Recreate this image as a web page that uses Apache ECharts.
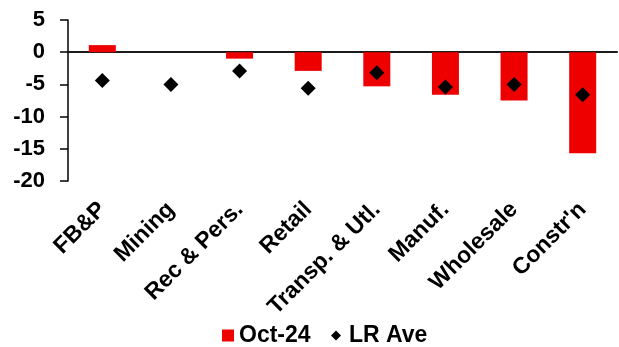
<!DOCTYPE html>
<html>
<head>
<meta charset="utf-8">
<script src="https://cdn.jsdelivr.net/npm/echarts@6/dist/echarts.min.js"></script>
<style>
  html, body { margin: 0; padding: 0; background: #fff; }
  #chart { width: 619px; height: 347px; }
</style>
</head>
<body>
<div id="chart"></div>
<script>
// Sector categories along the x axis
const categories = ['FB&P', 'Mining', 'Rec & Pers.', 'Retail', 'Transp. & Utl.', 'Manuf.', 'Wholesale', "Constr'n"];
// Latest month reading (bars)
const oct24 = [1.1, 0, -1.0, -2.9, -5.3, -6.6, -7.5, -15.7];
// Long-run average (diamond markers)
const lrAve = [-4.4, -5.0, -2.9, -5.6, -3.2, -5.4, -5.0, -6.6];
// Value axis ticks
const yTicks = { min: -20, max: 5, interval: 5 };

const FONT = "'Liberation Sans', Arial, sans-serif";
function txt(size, extra) {
  return Object.assign({ fontFamily: FONT, fontWeight: 'bold', fontSize: size, color: '#000' }, extra || {});
}

const chart = echarts.init(document.getElementById('chart'), null, { renderer: 'canvas' });

chart.setOption({
  animation: false,
  backgroundColor: '#fff',
  grid: { left: 68, right: 2, top: 20, bottom: 166, containLabel: false },
  legend: [
    {
      data: ['Oct-24'], left: 222, top: 324, padding: 0,
      icon: 'rect', itemWidth: 12, itemHeight: 12, itemGap: 0,
      textStyle: txt(23)
    },
    {
      data: ['LR Ave'], left: 331, top: 324, padding: 0,
      icon: 'diamond', itemWidth: 10, itemHeight: 10, itemGap: 0,
      textStyle: txt(23, { padding: [0, 0, 0, 3] })
    }
  ],
  xAxis: [
    {
      type: 'category',
      data: categories,
      position: 'bottom',
      axisLine: { show: false, onZero: false },
      axisTick: { show: false },
      axisLabel: txt(23, { rotate: 45, interval: 0, margin: 25 })
    },
    {
      // zero baseline drawn as a second axis sitting on y = 0
      type: 'category',
      data: categories,
      axisLine: { show: true, onZero: true, lineStyle: { color: '#1a1a1a', width: 2 } },
      axisTick: { show: false },
      axisLabel: { show: false }
    }
  ],
  yAxis: {
    type: 'value',
    min: yTicks.min, max: yTicks.max, interval: yTicks.interval,
    axisLine: { show: true, onZero: false, lineStyle: { color: '#000', width: 1.5 } },
    axisTick: { show: true, inside: false, length: 8, lineStyle: { color: '#000', width: 1.5 } },
    splitLine: { show: false },
    axisLabel: txt(22, { margin: 23 })
  },
  series: [
    {
      name: 'Oct-24',
      type: 'bar',
      data: oct24,
      barWidth: 27,
      itemStyle: { color: '#ee0000' },
      z: 2
    },
    {
      name: 'LR Ave',
      type: 'scatter',
      data: lrAve,
      symbol: 'diamond',
      symbolSize: 15,
      itemStyle: { color: '#000', opacity: 1 },
      z: 3
    }
  ]
});
</script>
</body>
</html>
